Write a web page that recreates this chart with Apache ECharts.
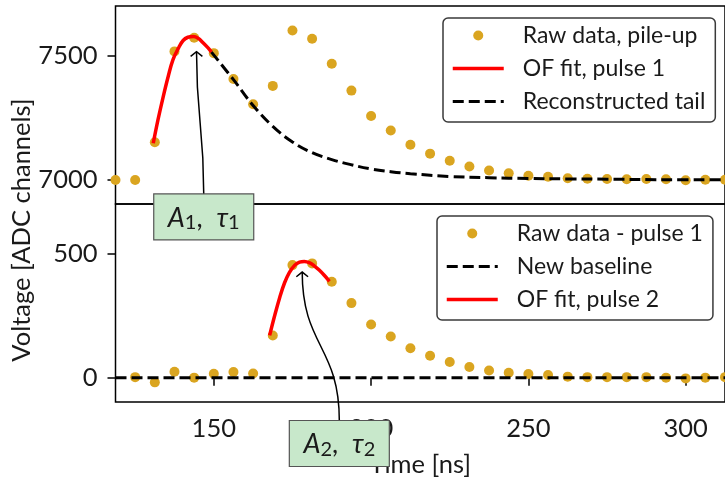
<!DOCTYPE html>
<html>
<head>
<meta charset="utf-8">
<script src="https://cdn.jsdelivr.net/npm/echarts@6/dist/echarts.min.js"></script>
<style>
  html, body { margin: 0; padding: 0; background: #fff; }
  #chart { width: 725px; height: 481px; }
</style>
</head>
<body>
<div id="chart"></div>
<script>
// Sampling instants of the digitiser (6.25 ns period), in ns
const sampleTimes = [118.75, 125, 131.25, 137.5, 143.75, 150, 156.25, 162.5, 168.75, 175,
  181.25, 187.5, 193.75, 200, 206.25, 212.5, 218.75, 225, 231.25, 237.5, 243.75, 250,
  256.25, 262.5, 268.75, 275, 281.25, 287.5, 293.75, 300, 306.25, 312.5];

// Upper panel: raw pile-up trace (ADC channels)
const rawPileUp = [7000, 7000, 7152, 7518, 7573, 7511, 7407, 7305, 7379, 7602,
  7569, 7468, 7360, 7258, 7199, 7142, 7106, 7077, 7054, 7038, 7027, 7017,
  7013, 7007, 7005, 7004, 7003, 7004, 7003, 6999, 7001, 7001];

// Optimal-filter fit of the first pulse
const fit1Times  = [130.75, 132.25, 134, 135.5, 137, 138.75, 140.25, 141.75, 143.5, 145, 146.5, 148.25, 149.25];
const fit1Values = [7148, 7242, 7340, 7417, 7484, 7531, 7562, 7575, 7578, 7571, 7554, 7531, 7515];

// Tail of the first pulse extrapolated under the second one
const tailTimes  = [149.25, 156.25, 162.5, 168.75, 175, 181.25, 187.5, 193.75, 200, 206.25,
  212.5, 225, 237.5, 250, 262.5, 275, 293.75, 312.5];
const tailValues = [7515, 7404, 7300, 7216, 7153, 7110, 7082, 7061, 7044, 7033,
  7025, 7014, 7009, 7006, 7004, 7003, 7001, 7001];

// Lower panel: raw trace with the first pulse subtracted (first sample not available)
const rawMinusPulse1 = [null, 2, -19, 24, 0, 16, 23, 17, 170, 453,
  460, 386, 300, 214, 166, 118, 88, 63, 43, 29, 20, 15,
  11, 4, 2, 2, 2, 2, 0, -3, 0, 2];

const baselineTimes  = [118.75, 312.5];
const baselineValues = [0, 0];

// Optimal-filter fit of the second pulse
const fit2Times  = [167.75, 169.25, 171, 172.5, 174, 175.75, 177.25, 178.75, 180.5, 182, 183.5, 185.25, 186.75];
const fit2Values = [170, 245, 325, 382, 423, 453, 465, 468, 462, 449, 433, 410, 388];

// Tick positions
const timeTicks   = [150, 200, 250, 300];
const upperTicks  = [7000, 7500];
const lowerTicks  = [0, 500];

// Annotation anchors: arrow tip and label centre, in data coordinates of each panel
const ann1Tip = [144.5, 7517], ann1Label = [146.8, 6851];
const ann2Tip = [178.1, 425],  ann2Label = [189.9, -265];

const FONT = 'Lato, "DejaVu Sans", sans-serif';
const INK = '#1a1a1a';
const GOLD = '#daa520';
const RED = '#ff0000';

const pairs = (xs, ys) => xs.map((x, i) => [x, ys[i]]).filter(p => p[1] !== null);

const chart = echarts.init(document.getElementById('chart'), null, { renderer: 'canvas' });

const gridBase = { left: 115.5, right: -2, height: 198, show: true,
  borderColor: '#000', borderWidth: 1.5, backgroundColor: 'transparent', containLabel: false };

const xBase = { type: 'value', min: 118.75, max: 312.5, splitLine: { show: false },
  axisLine: { show: false } };

const yBase = (min, max, ticks, gridIndex) => ({
  type: 'value', gridIndex, min, max,
  splitLine: { show: false }, axisLine: { show: false },
  axisTick: { show: true, length: 8, lineStyle: { color: '#000', width: 1.5 }, customValues: ticks },
  axisLabel: { customValues: ticks, fontSize: 25.5, fontFamily: FONT, color: INK, margin: 18,
               formatter: v => String(v) }
});

const legendBase = {
  orient: 'vertical', itemWidth: 51, itemHeight: 10, itemGap: 10,
  backgroundColor: '#fff', borderColor: '#3a3a3a', borderWidth: 1.5, borderRadius: 5,
  selectedMode: false,
  textStyle: { fontSize: 23, fontFamily: FONT, color: INK, padding: [0, 0, 0, 14] }
};

const dashed = [11, 5];

// line entries in the legends show only the stroke, at the series' own width
const lineEntry = (name, width) => ({ name, itemStyle: { opacity: 0 }, lineStyle: { width } });

chart.setOption({
  animation: false,
  grid: [
    Object.assign({ top: 6 }, gridBase),
    Object.assign({ top: 204 }, gridBase)
  ],
  xAxis: [
    Object.assign({ gridIndex: 0, axisTick: { show: false }, axisLabel: { show: false } }, xBase),
    Object.assign({
      gridIndex: 1,
      axisTick: { show: true, length: 8, lineStyle: { color: '#000', width: 1.5 }, customValues: timeTicks },
      axisLabel: { customValues: timeTicks, fontSize: 25.5, fontFamily: FONT, color: INK, margin: 14,
                   formatter: v => String(v) },
      name: 'Time [ns]', nameLocation: 'middle', nameGap: 50,
      nameTextStyle: { fontSize: 25.5, fontFamily: FONT, color: INK }
    }, xBase)
  ],
  yAxis: [
    yBase(6903, 7701, upperTicks, 0),
    yBase(-98, 699, lowerTicks, 1)
  ],
  legend: [
    Object.assign({
      left: 443, top: 18, padding: [6, 10, 9, 8],
      data: [{ name: 'Raw data, pile-up', icon: 'circle' },
             lineEntry('OF fit, pulse 1', 3.5), lineEntry('Reconstructed tail', 3)]
    }, legendBase),
    Object.assign({
      left: 437, top: 216, padding: [6, 10, 9, 8],
      data: [{ name: 'Raw data - pulse 1', icon: 'circle' },
             lineEntry('New baseline', 3), lineEntry('OF fit, pulse 2', 3.5)]
    }, legendBase)
  ],
  series: [
    { name: 'Raw data, pile-up', type: 'scatter', xAxisIndex: 0, yAxisIndex: 0,
      data: pairs(sampleTimes, rawPileUp), symbolSize: 10, itemStyle: { color: GOLD, opacity: 1 }, z: 2 },
    { name: 'OF fit, pulse 1', type: 'line', xAxisIndex: 0, yAxisIndex: 0,
      data: pairs(fit1Times, fit1Values), smooth: 0.4, symbol: 'none',
      lineStyle: { color: RED, width: 3.5 }, itemStyle: { color: RED }, z: 3 },
    { name: 'Reconstructed tail', type: 'line', xAxisIndex: 0, yAxisIndex: 0,
      data: pairs(tailTimes, tailValues), smooth: 0.4, symbol: 'none',
      lineStyle: { color: '#000', width: 3, type: dashed }, itemStyle: { color: '#000' }, z: 3 },
    { name: 'Raw data - pulse 1', type: 'scatter', xAxisIndex: 1, yAxisIndex: 1,
      data: pairs(sampleTimes, rawMinusPulse1), symbolSize: 10, itemStyle: { color: GOLD, opacity: 1 }, z: 2 },
    { name: 'New baseline', type: 'line', xAxisIndex: 1, yAxisIndex: 1,
      data: pairs(baselineTimes, baselineValues), symbol: 'none',
      lineStyle: { color: '#000', width: 3, type: dashed }, itemStyle: { color: '#000' }, z: 3 },
    { name: 'OF fit, pulse 2', type: 'line', xAxisIndex: 1, yAxisIndex: 1,
      data: pairs(fit2Times, fit2Values), smooth: 0.4, symbol: 'none',
      lineStyle: { color: RED, width: 3.5 }, itemStyle: { color: RED }, z: 3 }
  ]
});

// Arrow + boxed label annotations, positioned through the panels' own scales
function annotation(gridIndex, tip, labelAt, sub) {
  const p = chart.convertToPixel({ gridIndex }, tip);
  const c = chart.convertToPixel({ gridIndex }, labelAt);
  const w = 100, h = 46;
  const sx = c[0], sy = c[1] - h / 2;
  const k = (sy - p[1]) / 2;
  const ang = -Math.PI / 2; // the curve arrives vertically at the tip
  const arm = 7.5, spread = 0.9;
  const a1 = [p[0] - arm * Math.cos(ang - spread), p[1] - arm * Math.sin(ang - spread)];
  const a2 = [p[0] - arm * Math.cos(ang + spread), p[1] - arm * Math.sin(ang + spread)];
  return [
    { type: 'bezierCurve', z: 100, silent: true,
      shape: { x1: sx, y1: sy, cpx1: sx, cpy1: sy - k, cpx2: p[0], cpy2: p[1] + k, x2: p[0], y2: p[1] },
      style: { stroke: '#000', lineWidth: 1.5, fill: null } },
    { type: 'polyline', z: 100, silent: true,
      shape: { points: [a1, p, a2] },
      style: { stroke: '#000', lineWidth: 1.5, fill: null } },
    { type: 'rect', z: 101, silent: true,
      shape: { x: c[0] - w / 2, y: c[1] - h / 2, width: w, height: h },
      style: { fill: '#c8e8cb', stroke: '#555', lineWidth: 1.2 } },
    { type: 'text', z: 102, silent: true, x: c[0], y: c[1] + 1,
      style: {
        text: '{a|A}{s|' + sub + '}{c|,  }{a|τ}{s|' + sub + '}',
        align: 'center', verticalAlign: 'middle',
        rich: {
          a: { fontSize: 27, fontStyle: 'italic', fontFamily: FONT, fill: INK, lineHeight: 30 },
          c: { fontSize: 27, fontFamily: FONT, fill: INK, lineHeight: 30 },
          s: { fontSize: 20, fontFamily: FONT, fill: INK, lineHeight: 13, verticalAlign: 'bottom' }
        }
      } }
  ];
}

chart.setOption({
  graphic: [
    { type: 'text', x: 21.7, y: 230, rotation: Math.PI / 2, silent: true,
      style: { text: 'Voltage [ADC channels]', fontSize: 25.5, fontFamily: FONT, fill: INK,
               align: 'center', verticalAlign: 'middle' } }
  ].concat(annotation(0, ann1Tip, ann1Label, '1'), annotation(1, ann2Tip, ann2Label, '2'))
});
</script>
</body>
</html>
